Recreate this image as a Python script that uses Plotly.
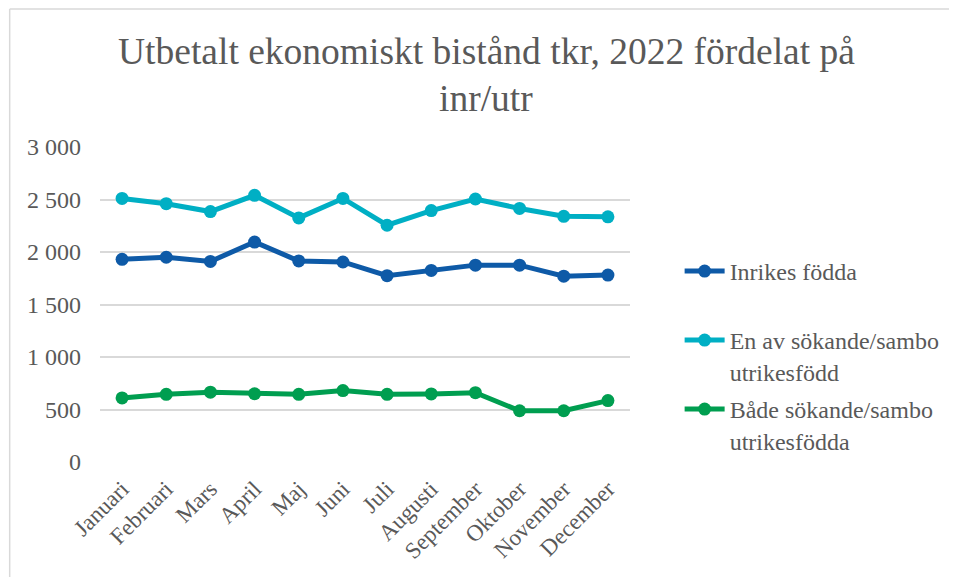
import plotly.graph_objects as go

months = ["Januari", "Februari", "Mars", "April", "Maj", "Juni", "Juli",
          "Augusti", "September", "Oktober", "November", "December"]
inrikes = [1930, 1950, 1910, 2095, 1915, 1905, 1775, 1825, 1875, 1875, 1770, 1780]
en_av = [2510, 2460, 2385, 2540, 2325, 2510, 2255, 2395, 2505, 2415, 2340, 2335]
bada = [610, 645, 665, 650, 645, 680, 645, 648, 660, 488, 488, 585]
y_ticks = [0, 500, 1000, 1500, 2000, 2500, 3000]

series_names = ["Inrikes födda",
                "En av sökande/sambo<br>utrikesfödd",
                "Både sökande/sambo<br>utrikesfödda"]
series_values = [inrikes, en_av, bada]
series_colors = ["#0E5AA7", "#00AFC4", "#009E50"]

FONT = "Liberation Serif, Times New Roman, serif"
GREY = "#595959"

# page body has an 8px margin; work in screen px and subtract it
OFF = 8
W, H = 957 - OFF, 577 - OFF
L, R, T, B = 100 - OFF, W - (634 - OFF), 147 - OFF, H - (462 - OFF)
pw, ph = W - L - R, H - T - B

def px(sx):
    return (sx - OFF - L) / pw

def py(sy):
    return (H - B - (sy - OFF)) / ph

legend_ids = ["legend", "legend2", "legend3"]
legend_tops = [249, 318, 387]

fig = go.Figure()
for name, vals, col, lid in zip(series_names, series_values, series_colors, legend_ids):
    fig.add_trace(go.Scatter(
        x=months, y=vals, name=name, mode="lines+markers",
        legend=lid,
        line=dict(color=col, width=5),
        marker=dict(color=col, size=13),
    ))

legend_common = dict(xanchor="left", yanchor="top", valign="top",
                     font=dict(size=24, family=FONT, color=GREY),
                     bgcolor="rgba(0,0,0,0)", itemwidth=40)

fig.update_layout(
    width=W, height=H,
    margin=dict(l=L, r=R, t=T, b=B),
    paper_bgcolor="white", plot_bgcolor="white",
    font=dict(family=FONT, color=GREY, size=24),
    separators=", ",
    showlegend=True,
    legend=dict(x=px(684), y=py(legend_tops[0]), **legend_common),
    legend2=dict(x=px(684), y=py(legend_tops[1]), **legend_common),
    legend3=dict(x=px(684), y=py(legend_tops[2]), **legend_common),
    xaxis=dict(
        type="category", range=[-0.5, 11.5], tickangle=-45,
        showgrid=False, showline=False, zeroline=False, ticks="",
        tickfont=dict(size=23, family=FONT, color=GREY),
        ticklabelstandoff=8,
    ),
    yaxis=dict(
        range=[0, 3000], tickvals=y_ticks, tickformat=",d",
        showgrid=True, gridcolor="#D9D9D9", gridwidth=1.5,
        zeroline=False, showline=False, ticks="",
        tickfont=dict(size=24, family=FONT, color=GREY),
        ticklabelstandoff=18,
    ),
    annotations=[
        dict(text="Utbetalt ekonomiskt bistånd tkr, 2022 fördelat på",
             xref="paper", yref="paper", x=px(489), y=py(52),
             xanchor="center", yanchor="middle", showarrow=False,
             font=dict(size=37.5, family=FONT, color=GREY)),
        dict(text="inr/utr",
             xref="paper", yref="paper", x=px(489), y=py(98),
             xanchor="center", yanchor="middle", showarrow=False,
             font=dict(size=37.5, family=FONT, color=GREY)),
    ],
    shapes=[
        dict(type="line", xref="paper", yref="paper",
             x0=px(9), x1=px(9), y0=py(9), y1=py(600),
             line=dict(color="#D9D9D9", width=1.5)),
        dict(type="line", xref="paper", yref="paper",
             x0=px(9), x1=px(980), y0=py(9), y1=py(9),
             line=dict(color="#D9D9D9", width=1.5)),
    ],
)

fig.write_html("out.html")
